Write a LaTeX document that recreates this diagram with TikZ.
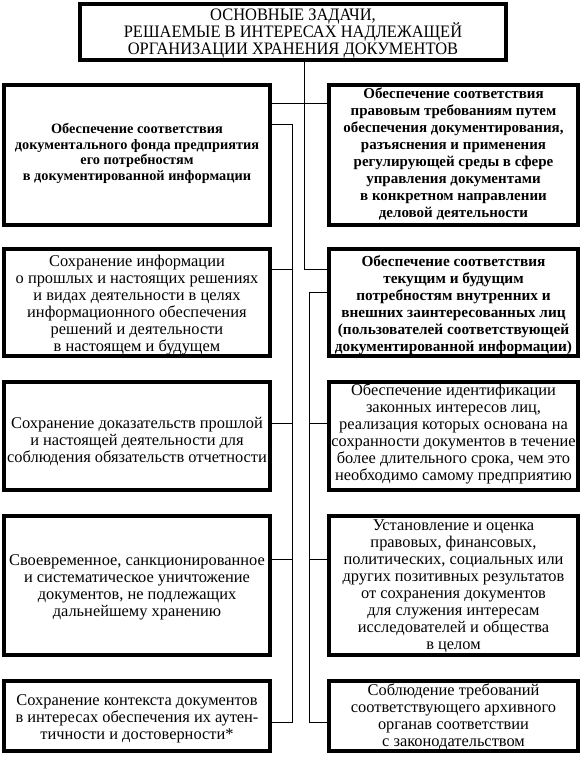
\documentclass[tikz,border=0pt]{standalone}
\usepackage{fontspec}
\setmainfont{Liberation Serif}
\newfontfamily\titlefont[FakeStretch=0.94]{Liberation Serif}
\usepackage{tikz}
\setlength{\lineskiplimit}{-100pt}
\tikzstyle{box}=[draw, line width=3.6pt, align=center, inner sep=0pt, text depth=0pt, font=\fontsize{16.4}{17}\selectfont]
\tikzstyle{boldbox}=[box, font=\fontsize{15}{17}\selectfont\bfseries]
\tikzstyle{link}=[line width=1pt]
\tikzset{txt/.style={text height=#1pt}}

\begin{document}
\begin{tikzpicture}[x=1pt, y=-1pt]
            \useasboundingbox (0,0) rectangle (581,757);
            % Заголовок
            \node[box, txt=46, minimum width=425.5pt, minimum height=56.5pt, font=\fontsize{17.5}{17}\selectfont\titlefont] (title) at (293,32) {ОСНОВНЫЕ ЗАДАЧИ,\\ РЕШАЕМЫЕ В ИНТЕРЕСАХ НАДЛЕЖАЩЕЙ\\ ОРГАНИЗАЦИИ ХРАНЕНИЯ ДОКУМЕНТОВ};
            % Левый столбец
            \node[boldbox, txt=50.5, minimum width=266.5pt, minimum height=140.5pt, font=\fontsize{14.3}{15.5}\selectfont\bfseries] (L1) at (137,155) {Обеспечение соответствия\\ документального фонда предприятия\\ его потребностям\\ в документированной информации};
            \node[box, txt=97, minimum width=266.5pt, minimum height=107.5pt] (L2) at (137,302.5) {Сохранение информации\\ о прошлых и настоящих решениях\\ и видах деятельности в целях\\ информационного обеспечения\\ решений и деятельности\\ в настоящем и будущем};
            \node[box, txt=52, minimum width=266.5pt, minimum height=108.5pt] (L3) at (137,436) {Сохранение доказательств прошлой\\ и настоящей деятельности для\\ соблюдения обязательств отчетности};
            \node[box, txt=62, minimum width=266.5pt, minimum height=139.5pt] (L4) at (137,585.5) {Своевременное, санкционированное\\ и систематическое уничтожение\\ документов, не подлежащих\\ дальнейшему хранению};
            \node[box, txt=47, minimum width=266.5pt, minimum height=70.5pt] (L5) at (137,716) {Сохранение контекста документов\\ в интересах обеспечения их аутен-\\ тичности и достоверности*};
            % Правый столбец
            \node[boldbox, txt=125, minimum width=249.5pt, minimum height=140.5pt] (R1) at (453.5,155) {Обеспечение соответствия\\ правовым требованиям путем\\ обеспечения документирования,\\ разъяснения и применения\\ регулирующей среды в сфере\\ управления документами\\ в конкретном направлении\\ деловой деятельности};
            \node[boldbox, txt=97, minimum width=249.5pt, minimum height=107.5pt, font=\fontsize{15.3}{17}\selectfont\bfseries] (R2) at (453.5,302.5) {Обеспечение соответствия\\ текущим и будущим\\ потребностям внутренних и\\ внешних заинтересованных лиц\\ (пользователей соответствующей\\ документированной информации)};
            \node[box, txt=89, minimum width=249.5pt, minimum height=108.5pt] (R3) at (453.5,436) {Обеспечение идентификации\\ законных интересов лиц,\\ реализация которых основана на\\ сохранности документов в течение\\ более длительного срока, чем это\\ необходимо самому предприятию};
            \node[box, txt=128, minimum width=249.5pt, minimum height=139.5pt] (R4) at (453.5,585.5) {Установление и оценка\\ правовых, финансовых,\\ политических, социальных или\\ других позитивных результатов\\ от сохранения документов\\ для служения интересам\\ исследователей и общества\\ в целом};
            \node[box, txt=61, minimum width=249.5pt, minimum height=70.5pt] (R5) at (453.5,716) {Соблюдение требований\\ соответствующего архивного\\ органав соответствии\\ с законодательством};
            % Точки шин
            \coordinate (c0) at (304,104);
            \coordinate (c1) at (304,269);
            \coordinate (lt) at (292,125);
            \coordinate (lb) at (292,722);
            \coordinate (rt) at (309,292);
            \coordinate (rb) at (309,722);
            % Связи
            \draw[link] (title.south -| c0) -- (c1) -- (R2.west |- c1);
            \draw[link] (L1.east |- c0) -- (R1.west |- c0);
            \draw[link] (L1.east |- lt) -- (lt) -- (lb) -- (L5.east |- lb);
            \draw[link] (R2.west |- rt) -- (rt) -- (rb) -- (R5.west |- rb);
            \foreach \n/\y in {L2/269, L3/423, L4/559}
                \draw[link] (\n.east |- 0,\y) -- (lt |- 0,\y);
            \foreach \n/\y in {R3/423, R4/559}
                \draw[link] (\n.west |- 0,\y) -- (rt |- 0,\y);
        \end{tikzpicture}
\end{document}
